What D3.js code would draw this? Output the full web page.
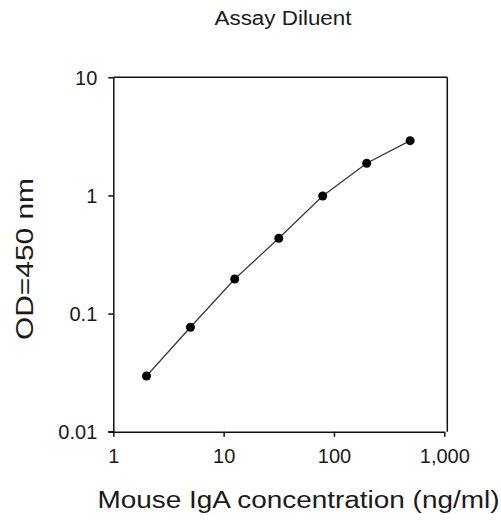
<!DOCTYPE html>
<html>
<head>
<meta charset="utf-8">
<script src="https://cdn.jsdelivr.net/npm/d3@7"></script>
<style>
  html, body { margin: 0; padding: 0; background: #fff; }
  svg { display: block; }
  text { font-family: "Liberation Sans", Arial, sans-serif; fill: #1a1a1a; }
</style>
</head>
<body>
<svg id="chart" width="501" height="527"></svg>
<script>
const concentration = [2.0, 5.0, 12.6, 31.6, 79, 198, 490];
const od450 = [0.0296, 0.0766, 0.196, 0.434, 0.99, 1.87, 2.91];
const xTicks = [1, 10, 100, 1000];
const xTickLabels = ["1", "10", "100", "1,000"];
const yTicks = [0.01, 0.1, 1, 10];
const yTickLabels = ["0.01", "0.1", "1", "10"];
const title = "Assay Diluent";
const xTitle = "Mouse IgA concentration (ng/ml)";
const yTitle = "OD=450 nm";

const svg = d3.select("#chart");
const pLeft = 113.3, pRight = 444.3, pTop = 77.3, pBottom = 431.7;

const x = d3.scaleLog().domain([1, 1000]).range([pLeft, pRight]);
const y = d3.scaleLog().domain([0.01, 10]).range([pBottom, pTop]);

// frame (top and right)
svg.append("line").attr("x1", pLeft).attr("x2", pRight + 3).attr("y1", pTop).attr("y2", pTop)
  .attr("stroke", "#111").attr("stroke-width", 1.5);
svg.append("line").attr("x1", pRight + 3).attr("x2", pRight + 3).attr("y1", pTop).attr("y2", pBottom)
  .attr("stroke", "#111").attr("stroke-width", 1.5);

const xAxis = svg.append("g").attr("transform", `translate(0,${pBottom})`)
  .call(d3.axisBottom(x).tickValues(xTicks).tickSizeInner(5).tickSizeOuter(0)
    .tickFormat((d, i) => xTickLabels[i]));
const yAxis = svg.append("g").attr("transform", `translate(${pLeft},0)`)
  .call(d3.axisLeft(y).tickValues(yTicks).tickSizeInner(5).tickSizeOuter(0)
    .tickFormat((d, i) => yTickLabels[i]));

[xAxis, yAxis].forEach(g => {
  g.select(".domain").attr("stroke", "#111").attr("stroke-width", 1.5);
  g.selectAll(".tick line").attr("stroke", "#111").attr("stroke-width", 1.5);
  g.selectAll(".tick text").attr("font-size", 20).attr("font-family", "Liberation Sans, Arial, sans-serif").attr("fill", "#1a1a1a");
});
svg.append("line").attr("x1", pLeft - 5).attr("x2", pLeft).attr("y1", pBottom).attr("y2", pBottom)
  .attr("stroke", "#111").attr("stroke-width", 1.5);
xAxis.selectAll(".tick text").attr("dy", null).attr("y", 31);
yAxis.selectAll(".tick text").attr("x", -16).attr("dy", "0.36em");

const pts = concentration.map((c, i) => [c, od450[i]]);
svg.append("path").datum(pts)
  .attr("d", d3.line().x(d => x(d[0])).y(d => y(d[1])))
  .attr("fill", "none").attr("stroke", "#333").attr("stroke-width", 1.2);
svg.selectAll("circle.pt").data(pts).enter().append("circle")
  .attr("class", "pt")
  .attr("cx", d => x(d[0])).attr("cy", d => y(d[1])).attr("r", 4.5).attr("fill", "#000");

svg.append("text").attr("x", 283).attr("y", 25).attr("text-anchor", "middle")
  .attr("font-size", 20).attr("textLength", 137).attr("lengthAdjust", "spacingAndGlyphs").text(title);
svg.append("text").attr("x", 298.5).attr("y", 508).attr("text-anchor", "middle")
  .attr("font-size", 23).attr("textLength", 402).attr("lengthAdjust", "spacingAndGlyphs").text(xTitle);
svg.append("text").attr("transform", "translate(33,259) rotate(-90)").attr("text-anchor", "middle")
  .attr("font-size", 24).attr("textLength", 162).attr("lengthAdjust", "spacingAndGlyphs").text(yTitle);
</script>
</body>
</html>
